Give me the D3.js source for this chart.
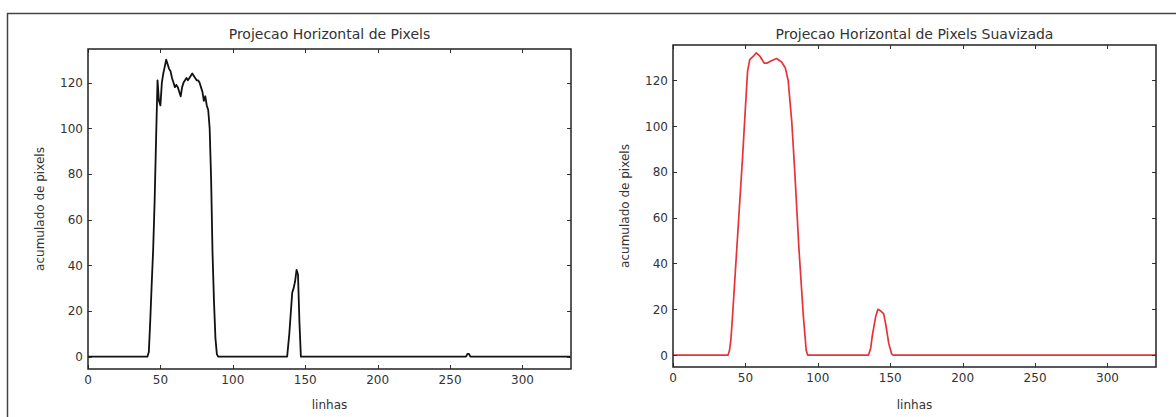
<!DOCTYPE html>
<html>
<head>
<meta charset="utf-8">
<script src="https://cdn.jsdelivr.net/npm/d3@7"></script>
<style>
  html, body { margin: 0; padding: 0; background: #fff; }
  svg text { font-family: "DejaVu Sans", sans-serif; fill: #333; }
</style>
</head>
<body>
<svg id="chart" width="1176" height="417"></svg>
<script>
// ---- data ----
const xTicks = [0, 50, 100, 150, 200, 250, 300];
const yTicks = [0, 20, 40, 60, 80, 100, 120];

const titleLeft = "Projecao Horizontal de Pixels";
const titleRight = "Projecao Horizontal de Pixels Suavizada";
const xLabel = "linhas";
const yLabel = "acumulado de pixels";

// raw horizontal projection (row index, pixel count)
const rawX = [0, 41, 42, 43, 44, 45, 46, 47, 48, 49, 50, 51, 52, 53, 54, 55, 56, 57, 58, 59, 60,
  61, 62, 63, 64, 65, 66, 67, 68, 69, 70, 71, 72, 73, 74, 75, 76, 77, 78, 79, 80,
  81, 82, 83, 84, 85, 86, 87, 88, 89, 90,
  137.5, 139, 141, 142, 143, 144, 145, 146, 147,
  261, 262, 263, 264, 333];
const rawY = [0, 0, 2, 16, 32, 47, 68, 95, 121, 112, 110, 120, 124, 127, 130, 128, 126, 125, 122, 120, 118,
  119, 118, 116, 114, 118, 120, 121, 122, 121, 122, 123, 124, 123, 122, 121, 121, 120, 118, 116, 112,
  114, 110, 108, 100, 78, 45, 24, 8, 1, 0,
  0, 10, 28, 30, 33, 38, 36, 15, 0,
  0, 1.2, 1.2, 0, 0];

// smoothed projection
const smoothX = [0, 38, 39, 40, 41, 44, 48, 50, 51.5, 53, 55.5, 57.5, 60, 63, 65, 68, 71.5, 75, 77.5, 79.5,
  82, 84, 87, 90, 92, 93, 135, 136.5, 137.5, 140, 141.5, 143, 145.5, 147, 149, 151, 152, 333.5];
const smoothY = [0, 0, 2, 7, 16, 46, 86, 108, 124, 129, 130.5, 132, 130.5, 127.5, 127.5, 128.5, 129.5, 128, 125.5, 120,
  102, 81, 46, 17, 2, 0, 0, 3, 8, 17, 20, 19.5, 18, 13, 5, 0.5, 0, 0];

// ---- drawing ----
const svg = d3.select("#chart");

// outer screenshot frame
svg.append("line").attr("x1", 7).attr("x2", 1176).attr("y1", 13.5).attr("y2", 13.5)
  .attr("stroke", "#444").attr("stroke-width", 1.5);
svg.append("line").attr("x1", 7.5).attr("x2", 7.5).attr("y1", 13).attr("y2", 417)
  .attr("stroke", "#444").attr("stroke-width", 1.5);

function panel(cfg) {
  const { left, right, top, bottom, yDomain, xs, ys, color, width, title, id } = cfg;
  const x = d3.scaleLinear().domain([0, 333.5]).range([left, right]);
  const y = d3.scaleLinear().domain(yDomain).range([bottom, top]);
  const g = svg.append("g");

  g.append("clipPath").attr("id", id).append("rect")
    .attr("x", left).attr("y", top).attr("width", right - left).attr("height", bottom - top);

  const pts = xs.map((v, i) => [v, ys[i]]);
  const line = d3.line().x(d => x(d[0])).y(d => y(d[1]));
  g.append("path").datum(pts)
    .attr("clip-path", `url(#${id})`)
    .attr("d", line).attr("fill", "none")
    .attr("stroke", color).attr("stroke-width", width).attr("stroke-linejoin", "round");

  // inward ticks on all four sides
  const tl = 4;
  const tick = (x1, y1, x2, y2) => g.append("line")
    .attr("x1", x1).attr("y1", y1).attr("x2", x2).attr("y2", y2)
    .attr("stroke", "#333").attr("stroke-width", 1);
  xTicks.forEach(t => {
    const px = Math.round(x(t)) + 0.5;
    tick(px, bottom, px, bottom - tl);
    tick(px, top, px, top + tl);
    g.append("text").attr("x", x(t)).attr("y", bottom + 15)
      .attr("text-anchor", "middle").attr("font-size", 12).text(t);
  });
  yTicks.forEach(t => {
    const py = Math.round(y(t)) + 0.5;
    tick(left, py, left + tl, py);
    tick(right, py, right - tl, py);
    g.append("text").attr("x", left - 5).attr("y", y(t) + 4.5)
      .attr("text-anchor", "end").attr("font-size", 12).text(t);
  });

  // frame
  g.append("rect").attr("x", left).attr("y", top)
    .attr("width", right - left).attr("height", bottom - top)
    .attr("fill", "none").attr("stroke", "#222").attr("stroke-width", 1.5);

  g.append("text").attr("x", (left + right) / 2).attr("y", 39)
    .attr("text-anchor", "middle").attr("font-size", 14).text(title);
  g.append("text").attr("x", (left + right) / 2).attr("y", 409)
    .attr("text-anchor", "middle").attr("font-size", 12).text(xLabel);
  g.append("text")
    .attr("transform", `translate(${left - 44},${(top + bottom) / 2}) rotate(-90)`)
    .attr("text-anchor", "middle").attr("font-size", 12).text(yLabel);
}

panel({ id: "clipL", left: 88, right: 571, top: 49, bottom: 369, yDomain: [-5.4, 134.7],
  xs: rawX, ys: rawY, color: "#111", width: 1.8, title: titleLeft });
panel({ id: "clipR", left: 673, right: 1156, top: 45, bottom: 367, yDomain: [-5.2, 135.4],
  xs: smoothX, ys: smoothY, color: "#e8323a", width: 1.7, title: titleRight });
</script>
</body>
</html>
